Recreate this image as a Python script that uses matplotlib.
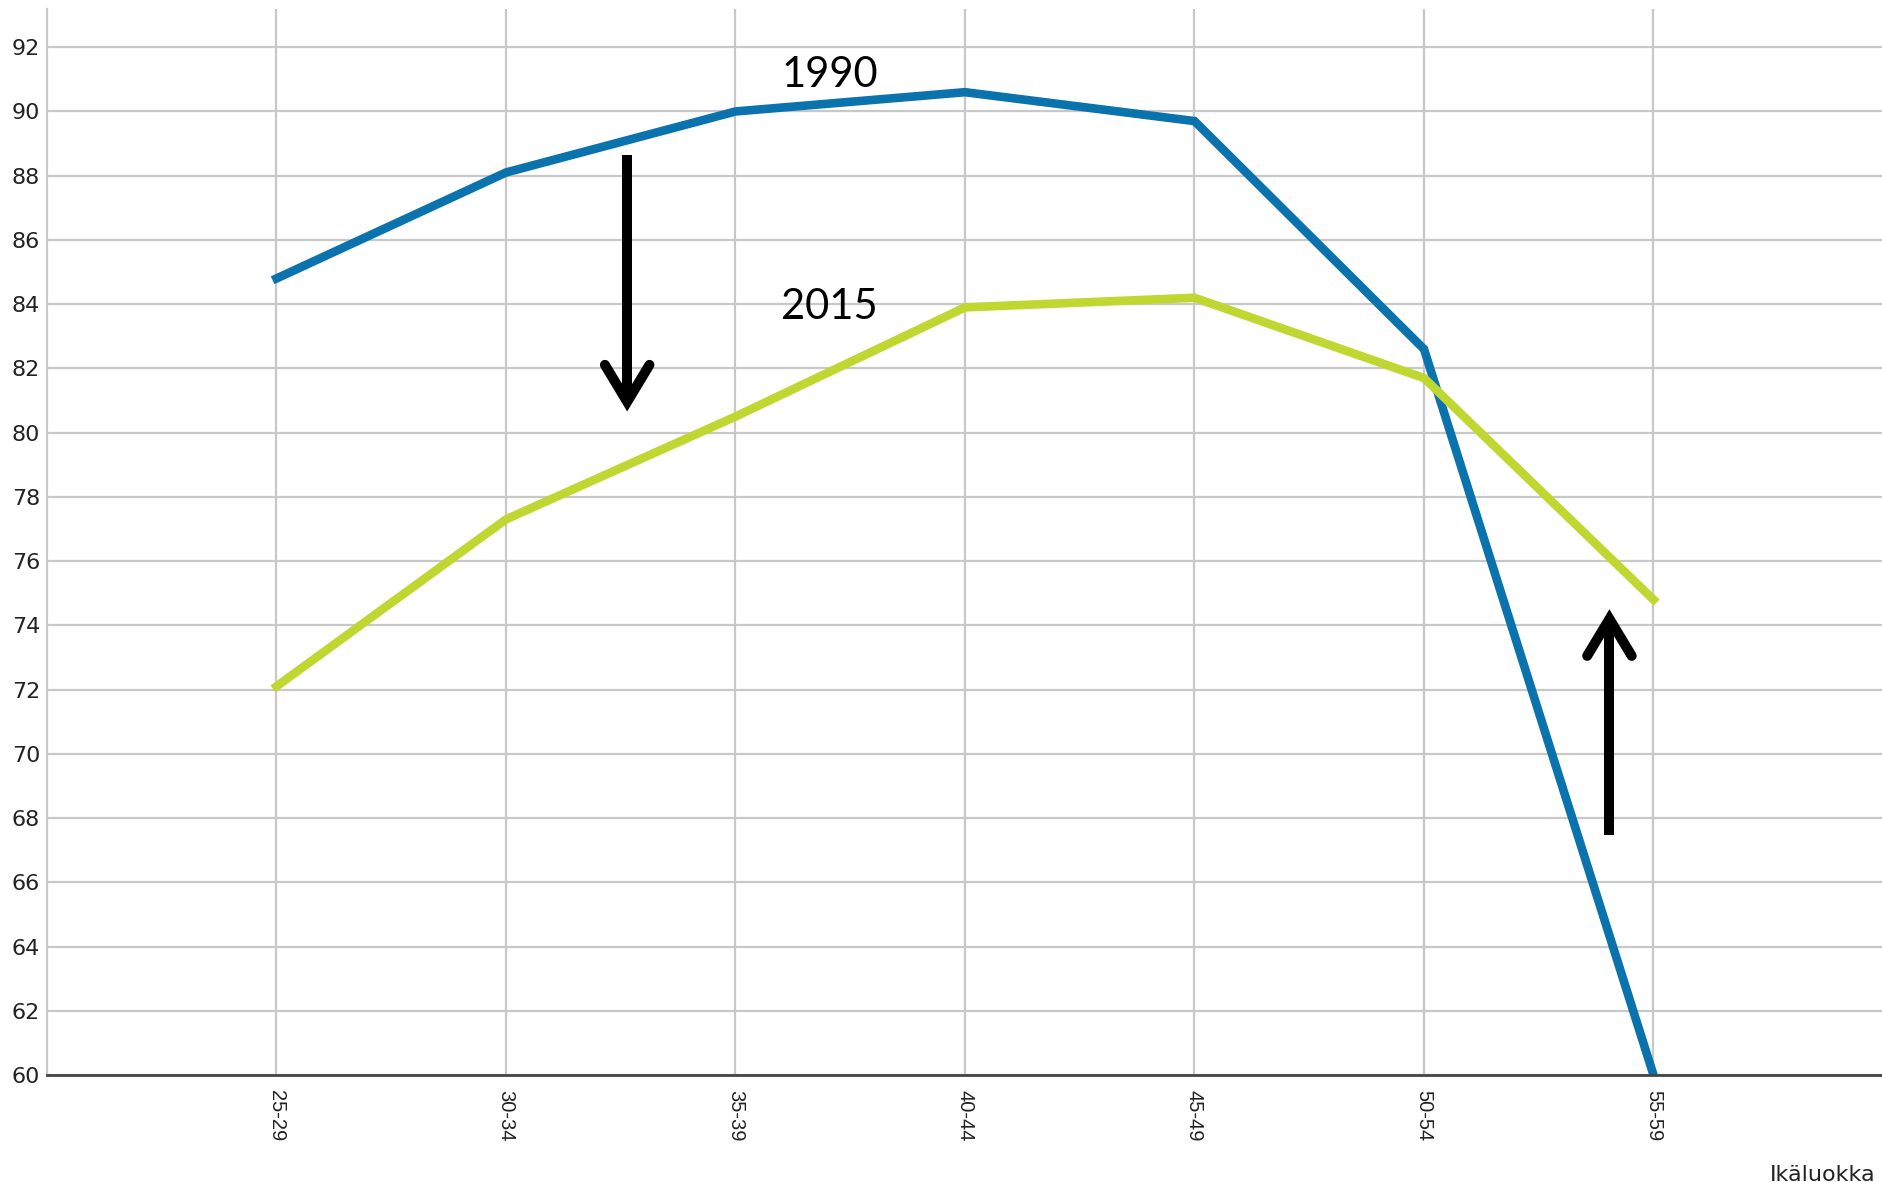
import matplotlib
matplotlib.use("Agg")
import matplotlib.pyplot as plt

# ---- data ----
categories = ["25-29", "30-34", "35-39", "40-44", "45-49", "50-54", "55-59"]
values_1990 = [84.8, 88.1, 90.0, 90.6, 89.7, 82.6, 60.0]
values_2015 = [72.1, 77.3, 80.5, 83.9, 84.2, 81.7, 74.8]
series_labels = ["1990", "2015"]
label_pos = [(2.41, 91.12), (2.41, 83.92)]
y_ticks = list(range(60, 93, 2))
x_axis_label = "Ikäluokka"

# annotation arrows: (x, tail_y, tip_y)
arrows = [(1.528, 88.65, 80.96), (5.808, 67.48, 74.20)]

W, H = 1883, 1182
fig = plt.figure(figsize=(W / 100, H / 100), dpi=100)
ax = fig.add_axes([47 / W, 1 - 1075 / H, 1 - 47 / W, (1075 - 9) / H])

x = list(range(len(categories)))
ax.plot(x, values_1990, color="#0a72ad", lw=6.2, zorder=3, solid_joinstyle="miter")
ax.plot(x, values_2015, color="#bfd730", lw=6.2, zorder=4, solid_joinstyle="miter")

ax.set_xlim(-1, 7)
ax.set_ylim(60, 93.19)
ax.set_yticks(y_ticks)
ax.set_xticks(x)
ax.set_xticklabels(categories, rotation=-90, fontsize=14.5, family="Liberation Sans",
                   color="#222222", va="top", ha="center")
for lab in ax.get_yticklabels():
    lab.set_fontsize(16)
    lab.set_color("#222222")
    lab.set_family("DejaVu Sans")
ax.tick_params(axis="both", length=0)
ax.tick_params(axis="y", pad=5)
ax.tick_params(axis="x", pad=11)

ax.grid(True, color="#c8c8c8", lw=1.6, zorder=0)
ax.set_axisbelow(True)
for s in ["top", "right"]:
    ax.spines[s].set_visible(False)
ax.spines["left"].set_color("#c8c8c8")
ax.spines["left"].set_linewidth(1.6)
ax.spines["bottom"].set_color("#444444")
ax.spines["bottom"].set_linewidth(2.0)
ax.spines["bottom"].set_zorder(5)

for (lx, ly), txt in zip(label_pos, series_labels):
    ax.text(lx, ly, txt, fontsize=30, family="Lato", ha="center", va="center",
            color="black", zorder=6)

hw, hl = 0.097, 1.15
for ax_x, tail, tip in arrows:
    ax.plot([ax_x, ax_x], [tail, tip], color="black", lw=7.2,
            solid_capstyle="butt", zorder=6)
    d = hl if tip < tail else -hl
    ax.plot([ax_x - hw, ax_x, ax_x + hw], [tip + d, tip, tip + d], color="black",
            lw=7.2, solid_capstyle="round", solid_joinstyle="miter", zorder=6)

fig.text(1876 / W, 1 / H, x_axis_label, fontsize=16, family="DejaVu Sans",
         ha="right", va="baseline", color="#222222")

fig.savefig("out.png", dpi=100)
